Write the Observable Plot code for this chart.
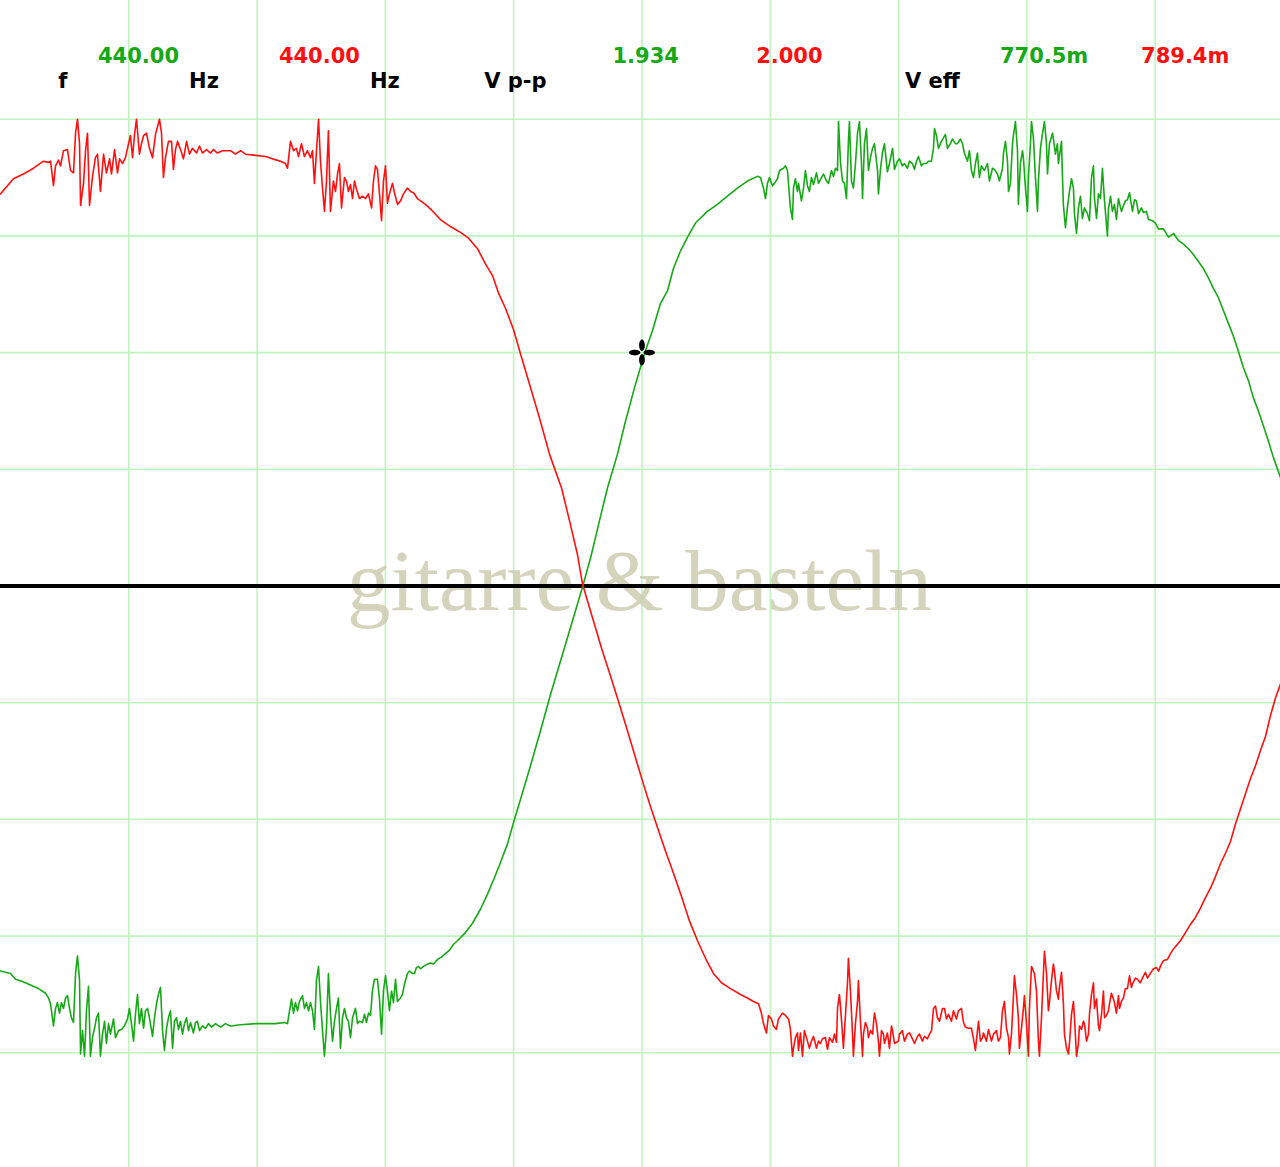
<!DOCTYPE html>
<html>
<head>
<meta charset="utf-8">
<script src="https://cdn.jsdelivr.net/npm/d3@7"></script>
<script src="https://cdn.jsdelivr.net/npm/@observablehq/plot@0.6"></script>
<style>
  html, body { margin: 0; padding: 0; background: #fff; overflow: hidden; }
  #scope svg { display: block; }
</style>
</head>
<body>
<div id="scope"></div>
<script>
// screen is 10 x 10 divisions, time in div (0.2 ms/div), voltage in div (0.25 V/div)

// channel 2 (red) trace, [time, volt]
const redTrace = [[0,3.36],[0.101,3.49],[0.179,3.53],[0.257,3.58],[0.335,3.64],[0.374,3.63],[0.390,3.64],[0.413,3.43],[0.429,3.60],[0.452,3.65],[0.468,3.60],[0.491,3.73],[0.522,3.74],[0.546,3.56],[0.569,3.54],[0.585,3.88],[0.600,4.00],[0.616,3.79],[0.624,3.26],[0.647,3.45],[0.663,3.73],[0.678,3.88],[0.694,3.26],[0.717,3.51],[0.740,3.67],[0.756,3.70],[0.779,3.38],[0.803,3.70],[0.826,3.54],[0.850,3.66],[0.865,3.53],[0.889,3.74],[0.912,3.54],[0.928,3.66],[0.951,3.62],[0.974,3.67],[0.998,3.79],[1.013,3.86],[1.029,3.67],[1.044,3.86],[1.060,4.00],[1.083,3.70],[1.099,3.79],[1.115,3.86],[1.138,3.88],[1.161,3.75],[1.185,3.67],[1.208,3.87],[1.239,4.00],[1.255,3.88],[1.270,3.50],[1.286,3.67],[1.309,3.81],[1.333,3.81],[1.348,3.57],[1.364,3.74],[1.380,3.81],[1.403,3.74],[1.426,3.66],[1.450,3.81],[1.473,3.70],[1.496,3.75],[1.528,3.71],[1.551,3.77],[1.574,3.71],[1.606,3.74],[1.637,3.71],[1.660,3.74],[1.691,3.71],[1.730,3.73],[1.793,3.73],[1.832,3.70],[1.871,3.73],[1.910,3.70],[1.988,3.69],[2.065,3.68],[2.120,3.66],[2.182,3.64],[2.221,3.62],[2.237,3.58],[2.260,3.81],[2.284,3.73],[2.307,3.75],[2.323,3.68],[2.346,3.79],[2.369,3.68],[2.393,3.73],[2.416,3.67],[2.432,3.73],[2.447,3.45],[2.463,3.73],[2.479,4.00],[2.494,3.64],[2.510,3.41],[2.525,3.21],[2.541,3.47],[2.556,3.90],[2.572,3.21],[2.595,3.47],[2.611,3.38],[2.627,3.53],[2.642,3.62],[2.658,3.24],[2.681,3.50],[2.697,3.47],[2.712,3.38],[2.728,3.44],[2.744,3.32],[2.759,3.47],[2.775,3.40],[2.798,3.32],[2.822,3.34],[2.845,3.32],[2.868,3.36],[2.892,3.24],[2.907,3.47],[2.923,3.60],[2.938,3.57],[2.954,3.36],[2.970,3.13],[2.985,3.47],[3.001,3.60],[3.016,3.28],[3.032,3.36],[3.055,3.45],[3.071,3.37],[3.094,3.27],[3.118,3.30],[3.141,3.36],[3.172,3.41],[3.196,3.38],[3.219,3.37],[3.250,3.32],[3.274,3.30],[3.313,3.27],[3.352,3.23],[3.429,3.14],[3.507,3.08],[3.585,3.03],[3.648,2.98],[3.718,2.89],[3.780,2.76],[3.835,2.66],[3.882,2.51],[3.936,2.38],[3.998,2.20],[4.053,1.99],[4.131,1.70],[4.209,1.41],[4.279,1.13],[4.373,0.84],[4.435,0.56],[4.497,0.27],[4.536,0.02],[4.622,-0.30],[4.692,-0.56],[4.754,-0.77],[4.817,-0.99],[4.887,-1.24],[4.949,-1.47],[5.012,-1.70],[5.066,-1.89],[5.121,-2.07],[5.183,-2.27],[5.245,-2.46],[5.308,-2.66],[5.370,-2.87],[5.433,-3.04],[5.495,-3.19],[5.557,-3.32],[5.620,-3.40],[5.690,-3.45],[5.768,-3.50],[5.822,-3.53],[5.869,-3.56],[5.908,-3.58],[5.931,-3.66],[5.947,-3.75],[5.970,-3.83],[5.986,-3.68],[6.009,-3.71],[6.025,-3.77],[6.048,-3.80],[6.064,-3.71],[6.095,-3.66],[6.118,-3.68],[6.142,-3.71],[6.157,-3.80],[6.173,-4.03],[6.181,-3.96],[6.196,-3.87],[6.212,-3.83],[6.220,-3.98],[6.235,-3.83],[6.251,-4.03],[6.266,-3.81],[6.290,-3.90],[6.305,-3.96],[6.321,-3.90],[6.337,-3.86],[6.360,-3.96],[6.376,-3.90],[6.391,-3.92],[6.407,-3.88],[6.430,-3.87],[6.446,-3.97],[6.461,-3.87],[6.485,-3.91],[6.500,-3.84],[6.516,-3.91],[6.524,-3.62],[6.539,-3.50],[6.547,-3.60],[6.563,-3.84],[6.570,-3.96],[6.586,-3.68],[6.602,-3.40],[6.609,-3.19],[6.625,-3.47],[6.641,-3.84],[6.648,-4.03],[6.664,-3.75],[6.680,-3.56],[6.687,-3.38],[6.703,-3.73],[6.719,-4.03],[6.726,-3.84],[6.742,-3.74],[6.758,-3.79],[6.765,-3.87],[6.781,-3.81],[6.797,-3.84],[6.812,-3.66],[6.828,-3.75],[6.843,-3.90],[6.851,-4.03],[6.867,-3.81],[6.882,-3.84],[6.890,-3.92],[6.913,-3.83],[6.929,-3.96],[6.945,-3.77],[6.953,-3.81],[6.968,-3.92],[6.984,-3.91],[6.999,-3.90],[7.007,-3.84],[7.030,-3.81],[7.046,-3.90],[7.069,-3.84],[7.085,-3.83],[7.108,-3.88],[7.124,-3.92],[7.147,-3.86],[7.163,-3.84],[7.186,-3.90],[7.202,-3.86],[7.225,-3.88],[7.241,-3.84],[7.257,-3.81],[7.272,-3.62],[7.288,-3.60],[7.303,-3.70],[7.319,-3.73],[7.342,-3.62],[7.358,-3.62],[7.373,-3.71],[7.389,-3.67],[7.412,-3.73],[7.428,-3.64],[7.451,-3.71],[7.467,-3.64],[7.490,-3.62],[7.506,-3.74],[7.521,-3.78],[7.545,-3.79],[7.568,-3.79],[7.584,-3.88],[7.599,-3.98],[7.615,-3.81],[7.623,-3.73],[7.638,-3.90],[7.654,-3.87],[7.662,-3.83],[7.685,-3.90],[7.701,-3.80],[7.724,-3.90],[7.740,-3.84],[7.763,-3.81],[7.778,-3.90],[7.794,-3.87],[7.810,-3.64],[7.825,-3.56],[7.841,-3.79],[7.857,-3.87],[7.864,-4.01],[7.880,-3.84],[7.896,-3.50],[7.903,-3.34],[7.919,-3.50],[7.934,-3.70],[7.942,-3.96],[7.958,-3.79],[7.973,-3.62],[7.981,-3.51],[7.997,-3.75],[8.012,-4.03],[8.020,-3.62],[8.036,-3.26],[8.051,-3.30],[8.059,-3.32],[8.075,-3.47],[8.090,-3.90],[8.098,-4.03],[8.114,-3.70],[8.129,-3.32],[8.137,-3.13],[8.153,-3.32],[8.168,-3.64],[8.176,-3.57],[8.192,-3.38],[8.207,-3.24],[8.215,-3.30],[8.231,-3.47],[8.246,-3.54],[8.254,-3.44],[8.270,-3.31],[8.285,-3.58],[8.293,-3.84],[8.309,-3.96],[8.324,-4.01],[8.332,-3.92],[8.348,-3.67],[8.363,-3.56],[8.371,-3.70],[8.387,-4.03],[8.402,-3.92],[8.410,-3.77],[8.426,-3.80],[8.441,-3.73],[8.449,-3.75],[8.465,-3.90],[8.480,-3.84],[8.488,-3.67],[8.504,-3.50],[8.519,-3.40],[8.527,-3.62],[8.543,-3.54],[8.558,-3.77],[8.566,-3.81],[8.582,-3.67],[8.597,-3.47],[8.605,-3.70],[8.620,-3.68],[8.636,-3.64],[8.644,-3.58],[8.659,-3.49],[8.675,-3.54],[8.683,-3.57],[8.698,-3.66],[8.714,-3.51],[8.722,-3.62],[8.737,-3.56],[8.753,-3.53],[8.768,-3.45],[8.784,-3.45],[8.800,-3.34],[8.815,-3.44],[8.823,-3.41],[8.846,-3.36],[8.862,-3.37],[8.885,-3.40],[8.901,-3.36],[8.924,-3.31],[8.940,-3.36],[8.963,-3.32],[8.987,-3.28],[9.010,-3.27],[9.026,-3.30],[9.049,-3.24],[9.065,-3.21],[9.096,-3.20],[9.119,-3.15],[9.143,-3.11],[9.174,-3.07],[9.197,-3.04],[9.236,-2.97],[9.275,-2.90],[9.314,-2.84],[9.353,-2.76],[9.392,-2.67],[9.431,-2.59],[9.470,-2.49],[9.509,-2.38],[9.548,-2.29],[9.587,-2.19],[9.626,-2.04],[9.665,-1.91],[9.704,-1.78],[9.743,-1.65],[9.782,-1.54],[9.821,-1.41],[9.860,-1.29],[9.899,-1.11],[9.938,-0.96],[9.977,-0.84]];

// channel 1 (green) trace
const greenTrace = [[0,-3.30],[0.078,-3.32],[0.117,-3.37],[0.171,-3.39],[0.234,-3.42],[0.296,-3.45],[0.351,-3.49],[0.374,-3.53],[0.390,-3.58],[0.413,-3.77],[0.429,-3.62],[0.444,-3.57],[0.460,-3.66],[0.475,-3.57],[0.491,-3.62],[0.507,-3.53],[0.522,-3.51],[0.538,-3.62],[0.553,-3.70],[0.569,-3.74],[0.585,-3.32],[0.600,-3.17],[0.616,-3.38],[0.624,-4.01],[0.639,-3.81],[0.655,-4.03],[0.670,-3.64],[0.686,-3.43],[0.701,-4.03],[0.717,-3.87],[0.733,-3.79],[0.748,-3.70],[0.764,-3.66],[0.779,-4.03],[0.795,-3.84],[0.811,-3.73],[0.826,-3.92],[0.842,-3.75],[0.857,-3.84],[0.881,-3.71],[0.896,-3.87],[0.920,-3.81],[0.943,-3.80],[0.966,-3.77],[0.990,-3.71],[1.005,-3.62],[1.021,-3.75],[1.037,-3.90],[1.052,-3.67],[1.068,-3.50],[1.083,-3.75],[1.099,-3.62],[1.115,-3.79],[1.130,-3.64],[1.146,-3.62],[1.161,-3.70],[1.185,-3.86],[1.200,-3.70],[1.216,-3.58],[1.231,-3.50],[1.247,-3.44],[1.263,-3.81],[1.278,-3.98],[1.294,-3.79],[1.309,-3.70],[1.325,-3.64],[1.341,-3.96],[1.356,-3.73],[1.372,-3.70],[1.387,-3.80],[1.403,-3.73],[1.419,-3.84],[1.434,-3.75],[1.450,-3.70],[1.465,-3.81],[1.481,-3.74],[1.504,-3.83],[1.520,-3.74],[1.535,-3.73],[1.551,-3.81],[1.574,-3.77],[1.598,-3.79],[1.621,-3.75],[1.645,-3.78],[1.676,-3.75],[1.715,-3.78],[1.754,-3.75],[1.793,-3.77],[1.871,-3.76],[1.995,-3.75],[2.143,-3.75],[2.214,-3.74],[2.237,-3.75],[2.253,-3.64],[2.268,-3.54],[2.284,-3.66],[2.299,-3.57],[2.315,-3.64],[2.330,-3.56],[2.354,-3.51],[2.369,-3.62],[2.385,-3.57],[2.401,-3.64],[2.416,-3.57],[2.432,-3.64],[2.447,-3.80],[2.463,-3.38],[2.479,-3.26],[2.494,-3.56],[2.510,-3.81],[2.525,-4.03],[2.541,-3.79],[2.556,-3.32],[2.572,-3.67],[2.588,-3.90],[2.603,-3.73],[2.619,-3.62],[2.634,-3.53],[2.650,-3.96],[2.666,-3.70],[2.681,-3.62],[2.697,-3.70],[2.712,-3.73],[2.728,-3.87],[2.744,-3.70],[2.767,-3.62],[2.783,-3.75],[2.798,-3.73],[2.822,-3.74],[2.837,-3.67],[2.853,-3.74],[2.868,-3.66],[2.884,-3.68],[2.899,-3.47],[2.915,-3.37],[2.938,-3.37],[2.954,-3.54],[2.970,-3.84],[2.985,-3.47],[3.001,-3.34],[3.016,-3.47],[3.032,-3.64],[3.048,-3.47],[3.063,-3.57],[3.079,-3.37],[3.094,-3.56],[3.118,-3.53],[3.133,-3.50],[3.149,-3.41],[3.172,-3.32],[3.188,-3.30],[3.211,-3.32],[3.227,-3.32],[3.242,-3.27],[3.258,-3.26],[3.274,-3.28],[3.297,-3.26],[3.328,-3.24],[3.352,-3.23],[3.375,-3.24],[3.406,-3.20],[3.437,-3.18],[3.468,-3.15],[3.500,-3.12],[3.531,-3.07],[3.562,-3.04],[3.624,-2.97],[3.679,-2.89],[3.741,-2.77],[3.796,-2.64],[3.850,-2.50],[3.897,-2.37],[3.952,-2.21],[3.998,-2.03],[4.053,-1.83],[4.131,-1.54],[4.209,-1.24],[4.287,-0.93],[4.341,-0.73],[4.388,-0.56],[4.458,-0.30],[4.544,0.02],[4.606,0.27],[4.669,0.56],[4.731,0.84],[4.809,1.13],[4.871,1.41],[4.942,1.70],[5.019,1.99],[5.082,2.19],[5.144,2.42],[5.199,2.53],[5.245,2.72],[5.300,2.87],[5.355,2.99],[5.417,3.11],[5.510,3.21],[5.588,3.27],[5.666,3.34],[5.744,3.41],[5.822,3.47],[5.900,3.51],[5.924,3.50],[5.947,3.41],[5.963,3.32],[5.978,3.45],[5.994,3.50],[6.017,3.43],[6.033,3.45],[6.056,3.49],[6.072,3.56],[6.103,3.58],[6.118,3.60],[6.134,3.56],[6.157,3.24],[6.173,3.14],[6.181,3.41],[6.196,3.49],[6.212,3.38],[6.220,3.45],[6.243,3.30],[6.259,3.41],[6.274,3.56],[6.290,3.43],[6.305,3.38],[6.321,3.50],[6.337,3.44],[6.360,3.54],[6.376,3.45],[6.399,3.50],[6.415,3.53],[6.438,3.47],[6.454,3.45],[6.477,3.56],[6.493,3.51],[6.508,3.58],[6.524,3.56],[6.532,3.98],[6.547,3.63],[6.563,3.47],[6.578,3.45],[6.594,3.32],[6.609,3.81],[6.617,3.98],[6.633,3.47],[6.648,3.41],[6.664,3.62],[6.680,3.88],[6.695,3.98],[6.711,3.62],[6.719,3.32],[6.734,3.79],[6.750,3.92],[6.765,3.56],[6.781,3.67],[6.797,3.75],[6.812,3.79],[6.836,3.56],[6.843,3.36],[6.859,3.57],[6.874,3.71],[6.890,3.79],[6.913,3.55],[6.929,3.62],[6.953,3.75],[6.968,3.57],[6.991,3.64],[7.007,3.66],[7.030,3.60],[7.046,3.62],[7.069,3.58],[7.085,3.64],[7.108,3.62],[7.124,3.57],[7.140,3.64],[7.155,3.68],[7.178,3.60],[7.194,3.62],[7.217,3.62],[7.233,3.64],[7.256,3.64],[7.272,3.75],[7.280,3.92],[7.295,3.86],[7.311,3.75],[7.334,3.81],[7.350,3.84],[7.365,3.87],[7.381,3.75],[7.404,3.79],[7.420,3.83],[7.443,3.79],[7.459,3.79],[7.482,3.83],[7.498,3.79],[7.513,3.71],[7.537,3.64],[7.552,3.73],[7.568,3.56],[7.584,3.50],[7.599,3.62],[7.615,3.71],[7.630,3.50],[7.646,3.60],[7.669,3.56],[7.693,3.62],[7.708,3.47],[7.732,3.58],[7.747,3.57],[7.771,3.53],[7.786,3.47],[7.810,3.58],[7.818,3.71],[7.833,3.81],[7.849,3.64],[7.857,3.38],[7.872,3.45],[7.888,3.79],[7.896,3.87],[7.911,3.98],[7.927,3.73],[7.934,3.27],[7.950,3.62],[7.966,3.73],[7.973,3.67],[7.989,3.41],[8.005,3.21],[8.012,3.50],[8.028,3.79],[8.036,3.98],[8.051,3.84],[8.067,3.50],[8.083,3.21],[8.090,3.47],[8.106,3.75],[8.121,3.87],[8.137,3.98],[8.153,3.79],[8.161,3.53],[8.176,3.79],[8.200,3.88],[8.207,3.83],[8.223,3.70],[8.238,3.79],[8.246,3.62],[8.270,3.81],[8.277,3.53],[8.285,3.26],[8.301,3.07],[8.316,3.24],[8.332,3.38],[8.348,3.49],[8.363,3.41],[8.371,3.19],[8.387,3.02],[8.402,3.24],[8.418,3.34],[8.433,3.15],[8.449,3.24],[8.472,3.19],[8.488,3.13],[8.504,3.50],[8.519,3.60],[8.527,3.32],[8.543,3.15],[8.558,3.36],[8.574,3.32],[8.589,3.58],[8.605,3.30],[8.628,3.00],[8.636,3.23],[8.652,3.34],[8.667,3.21],[8.683,3.27],[8.698,3.14],[8.714,3.32],[8.737,3.21],[8.753,3.26],[8.768,3.30],[8.784,3.31],[8.800,3.37],[8.823,3.21],[8.839,3.31],[8.854,3.30],[8.870,3.19],[8.893,3.24],[8.909,3.20],[8.932,3.21],[8.948,3.14],[8.979,3.13],[9.002,3.11],[9.026,3.06],[9.065,3.06],[9.104,2.99],[9.143,3.02],[9.182,2.96],[9.221,2.93],[9.259,2.89],[9.298,2.84],[9.337,2.78],[9.376,2.72],[9.415,2.64],[9.454,2.55],[9.493,2.47],[9.532,2.36],[9.571,2.25],[9.610,2.14],[9.649,2.01],[9.688,1.87],[9.727,1.76],[9.766,1.61],[9.805,1.50],[9.844,1.37],[9.883,1.24],[9.922,1.10],[9.977,0.93]];

// measurement readout at the top of the screen
const readoutText = ["f", "440.00", "Hz", "440.00", "Hz", "V p-p", "1.934", "2.000", "V eff", "770.5m", "789.4m"];
const readoutKind = ["label", "ch1", "label", "ch2", "label", "label", "ch1", "ch2", "label", "ch1", "ch2"];
const readoutTime = [0.45, 0.76, 1.47, 2.17, 2.88, 3.77, 4.77, 5.89, 7.05, 7.79, 8.89];

// graticule divisions
const gridTime = [1, 2, 3, 4, 5, 6, 7, 8, 9];
const gridVolt = [-4, -3, -2, -1, 1, 2, 3, 4];

// cursor
const cursorTime = [5.0];
const cursorVolt = [2.0];

const watermark = ["gitarre & basteln"];

const green = "#16a816";
const red = "#ff1010";

// four petal cursor glyph
const cursorSymbol = {
  draw(context, size) {
    const r = Math.sqrt(size / Math.PI);
    const k = 0.5523;
    const dirs = [[1, 0], [-1, 0], [0, 1], [0, -1]];
    dirs.forEach(([dx, dy]) => {
      const cx = dx * r * 0.56, cy = dy * r * 0.56;
      const ax = dx ? r * 0.44 : r * 0.22;
      const ay = dy ? r * 0.44 : r * 0.22;
      context.moveTo(cx + ax, cy);
      context.bezierCurveTo(cx + ax, cy + ay * k, cx + ax * k, cy + ay, cx, cy + ay);
      context.bezierCurveTo(cx - ax * k, cy + ay, cx - ax, cy + ay * k, cx - ax, cy);
      context.bezierCurveTo(cx - ax, cy - ay * k, cx - ax * k, cy - ay, cx, cy - ay);
      context.bezierCurveTo(cx + ax * k, cy - ay, cx + ax, cy - ay * k, cx + ax, cy);
      context.closePath();
    });
  }
};

const readout = readoutText.map((text, i) => ({
  text,
  kind: readoutKind[i],
  t: readoutTime[i],
  v: readoutKind[i] === "label" ? 4.27 : 4.485
}));

const cursor = cursorTime.map((t, i) => ({t, v: cursorVolt[i]}));

let scope = Plot.plot({
  width: 1280,
  height: 1167,
  margin: 0,
  x: { domain: [0, 9.977], axis: null },
  y: { domain: [-4.983, 5.017], axis: null },
  color: { domain: ["label", "ch1", "ch2"], range: ["#000000", green, red] },
  style: { background: "white" },
  marks: [
    Plot.ruleX(gridTime, { stroke: "#bff5bd", strokeWidth: 1.6 }),
    Plot.ruleY(gridVolt, { stroke: "#bff5bd", strokeWidth: 1.6 }),
    Plot.text(watermark, {
      x: 4.98, y: -0.21, text: d => d,
      fontFamily: "Liberation Serif", fontSize: 87,
      fill: "#c9c9ad", fillOpacity: 0.8,
      textAnchor: "middle", lineAnchor: "bottom"
    }),
    Plot.ruleY([0], { stroke: "black", strokeWidth: 4 }),
    Plot.line(greenTrace, { stroke: green, strokeWidth: 1.6 }),
    Plot.line(redTrace, { stroke: red, strokeWidth: 1.6 }),
    Plot.dot(cursor, { x: "t", y: "v", r: 13, symbol: cursorSymbol, fill: "black", stroke: "none" }),
    Plot.text(readout, {
      x: "t", y: "v", text: "text", fill: "kind",
      fontFamily: "DejaVu Sans", fontWeight: "bold", fontSize: 21,
      textAnchor: "start", lineAnchor: "bottom"
    })
  ]
})

d3.select('#scope').append(() => scope)
</script>
</body>
</html>
